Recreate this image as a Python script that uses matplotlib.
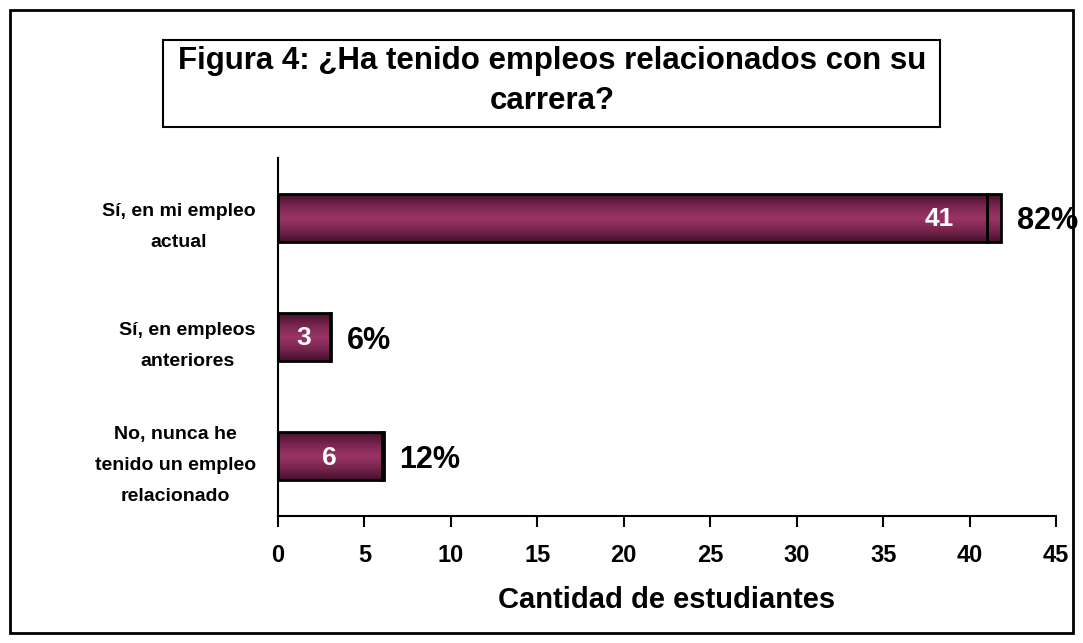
import numpy as np
import matplotlib.pyplot as plt
from matplotlib.colors import LinearSegmentedColormap
from matplotlib.patches import Rectangle

plt.rcParams['font.family'] = ['Liberation Sans', 'DejaVu Sans']
plt.rcParams['font.weight'] = 'bold'

categories = ['Sí, en mi empleo\nactual', 'Sí, en empleos\nanteriores',
              'No, nunca he\ntenido un empleo\nrelacionado']
counts = [41, 3, 6]
shares = [0.82, 0.06, 0.12]
xticks = [0, 5, 10, 15, 20, 25, 30, 35, 40, 45]

cmap = LinearSegmentedColormap.from_list(
    'plum', ['#45122c', '#7a2550', '#9b3566', '#7a2550', '#45122c'])
grad = np.linspace(0, 1, 64).reshape(-1, 1)

fig = plt.figure(figsize=(10.83, 6.43), dpi=100)
ax = fig.add_axes([278 / 1083, 1 - 516 / 643, (1056 - 278) / 1083, (516 - 158) / 643])

bar_h = 0.4
y = np.arange(len(categories))
for yi, c, s in zip(y, counts, shares):
    y0, y1 = yi - bar_h / 2, yi + bar_h / 2
    # main segment
    ax.imshow(grad, extent=[0, c, y1, y0], cmap=cmap, aspect='auto', zorder=2)
    ax.add_patch(Rectangle((0, y0), c, bar_h, fill=False, ec='black', lw=2, zorder=3))
    # stacked share segment
    ax.imshow(grad, extent=[c, c + s, y1, y0], cmap=cmap, aspect='auto', zorder=2)
    ax.add_patch(Rectangle((c, y0), s, bar_h, fill=False, ec='black', lw=2, zorder=3))
    ax.text(c - 1.9 if c > 10 else c / 2, yi + 0.01, str(c), color='white', fontsize=19,
            fontweight='bold', ha='right' if c > 10 else 'center', va='center', zorder=4)
    ax.text(c + s + 0.9, yi + 0.03, f'{s:.0%}', color='black', fontsize=22,
            fontweight='bold', ha='left', va='center', zorder=4)

ax.set_xlim(0, 45)
ax.set_ylim(len(categories) - 0.5, -0.5)
ax.set_xticks(xticks)
ax.set_xticklabels([str(t) for t in xticks], fontsize=17, fontweight='bold')
ax.set_yticks(y)
ax.set_yticklabels(categories, fontsize=14, fontweight='bold', linespacing=2.1,
                   multialignment='center')
ax.tick_params(axis='x', length=8, width=1.5, pad=12)
ax.tick_params(axis='y', length=0, pad=16)
for sp in ['top', 'right']:
    ax.spines[sp].set_visible(False)
ax.spines['left'].set_linewidth(1.5)
ax.spines['bottom'].set_linewidth(1.5)
ax.set_xlabel('Cantidad de estudiantes', fontsize=21, fontweight='bold', labelpad=14)

# outer frame
fig.patches.append(Rectangle((10 / 1083, 10 / 643), 1063 / 1083, 623 / 643,
                             transform=fig.transFigure, fill=False, ec='black', lw=2))
# title box
fig.patches.append(Rectangle((163 / 1083, 1 - 127 / 643), (940 - 163) / 1083, 87 / 643,
                             transform=fig.transFigure, fill=False, ec='black', lw=1.5))
fig.text(552 / 1083, 1 - 61 / 643, 'Figura 4: ¿Ha tenido empleos relacionados con su',
         ha='center', va='center', fontsize=22.5, fontweight='bold')
fig.text(552 / 1083, 1 - 101 / 643, 'carrera?',
         ha='center', va='center', fontsize=22.5, fontweight='bold')

fig.savefig('out.png', dpi=100)
